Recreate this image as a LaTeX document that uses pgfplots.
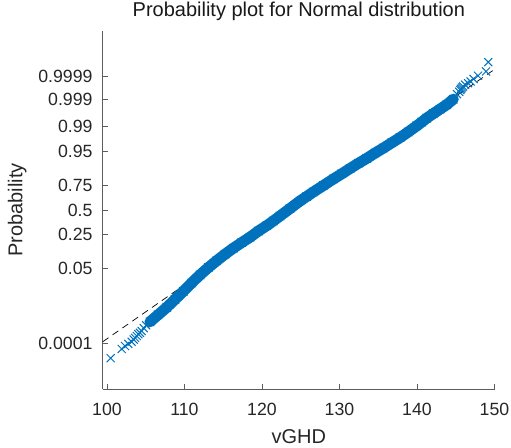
\documentclass[border=0pt]{standalone}
\usepackage{fontspec}
\setmainfont{Liberation Sans}
\usepackage{pgfplots}
\pgfplotsset{compat=1.18}
\definecolor{mblue}{RGB}{0,114,189}
\definecolor{mtext}{RGB}{38,38,38}

\begin{document}
\begin{tikzpicture}
\path[use as bounding box] (-102.7pt,-58pt) rectangle (408.3pt,389pt);
\begin{axis}[
  at={(0,0)}, anchor=south west,
  scale only axis, width=392.3pt, height=358pt,
  xmin=99.45, xmax=150.07, ymin=-5, ymax=5,
  axis lines=left,
  axis line style={-, mtext!75, line width=0.8pt},
  tick align=inside, major tick length=5pt,
  tick style={mtext!75, line width=0.8pt},
  xtick={100,110,120,130,140,150},
  ytick={-3.719016,-1.644854,-0.674490,0,0.674490,1.644854,2.326348,3.090232,3.719016},
  yticklabels={0.0001,0.05,0.25,0.5,0.75,0.95,0.99,0.999,0.9999},
  /pgf/number format/assume math mode=true,
  tick label style={font=\fontsize{17.7}{20}\selectfont, text=mtext},
  xticklabel style={anchor=base, yshift=-26.7pt},
  yticklabel style={anchor=east, inner sep=0pt, xshift=-10pt},
  title={Probability plot for Normal distribution},
  title style={at={(0.5,1.0232)}, anchor=base, font=\fontsize{20}{24}\selectfont, text=black!90},
  xlabel={vGHD},
  ylabel={Probability},
  xlabel style={at={(0.5,-0.1517)}, anchor=base, font=\fontsize{20}{24}\selectfont, text=mtext},
  ylabel style={at={(-0.205,0.5)}, anchor=base, rotate=0, font=\fontsize{20}{24}\selectfont, text=mtext},
  clip=false,
]
% reference line
\addplot[black, line width=0.7pt, dash pattern=on 7pt off 5pt] coordinates {(99.45,-3.68) (150.07,3.938)};
% dense body of the sample
\addplot[mblue, line width=11pt, line cap=round, line join=round, smooth, tension=0.4,
  mark=x, mark size=5.7pt, mark options={solid, line width=1pt}] coordinates {
(105.55,-3.124) (106.59,-2.929) (107.71,-2.720) (108.78,-2.497) (109.85,-2.273)
(110.93,-2.036) (112.01,-1.813) (113.08,-1.609) (114.16,-1.417) (115.23,-1.236)
(116.30,-1.068) (117.39,-0.909) (118.46,-0.759) (119.53,-0.590) (120.61,-0.438)
(121.46,-0.307) (122.33,-0.167) (123.62,0.042) (124.91,0.251) (125.77,0.377)
(126.62,0.502) (127.92,0.683) (129.21,0.865) (130.29,1.010) (131.36,1.158)
(132.43,1.303) (133.52,1.442) (134.59,1.590) (135.66,1.729) (136.74,1.877)
(137.81,2.022) (138.88,2.181) (139.97,2.351) (140.61,2.455) (141.26,2.566)
(142.11,2.692) (142.97,2.817) (143.84,2.943) (144.69,3.096)
};
% sparse tails
\addplot[only marks, mblue, mark=x, mark size=5.7pt, mark options={line width=1pt}] coordinates {
(100.48,-4.14) (101.90,-3.88) (102.33,-3.80) (102.75,-3.74) (103.19,-3.68)
(103.45,-3.62) (103.62,-3.57) (103.85,-3.52) (104.04,-3.47) (104.25,-3.43)
(104.48,-3.38) (104.75,-3.30) (105.05,-3.22)
(145.17,3.236) (145.45,3.30) (145.60,3.35) (145.69,3.39) (145.82,3.42)
(145.95,3.45) (146.21,3.50) (146.60,3.54) (146.92,3.59) (147.30,3.66)
(147.88,3.75) (148.91,3.87) (149.20,4.13)
};
\end{axis}
\end{tikzpicture}
\end{document}
